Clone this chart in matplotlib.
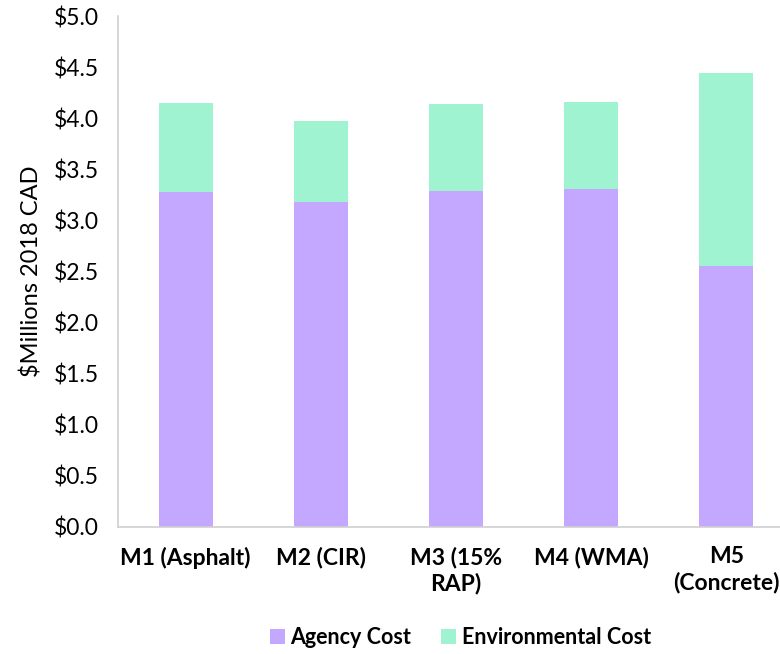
import matplotlib.pyplot as plt
from matplotlib.ticker import FuncFormatter

# cost breakdown per pavement design, millions of 2018 CAD
designs = ['M1 (Asphalt)', 'M2 (CIR)', 'M3 (15%\nRAP)', 'M4 (WMA)', 'M5\n(Concrete)']
agency_cost = [3.28, 3.18, 3.29, 3.31, 2.55]
environmental_cost = [0.87, 0.79, 0.85, 0.85, 1.89]

plt.rcParams['font.family'] = ['Lato', 'DejaVu Sans']

fig = plt.figure(figsize=(7.8, 6.54), dpi=100)
ax = fig.add_axes([118 / 780, 127 / 654, 676 / 780, 511 / 654])

x = range(len(designs))
ax.bar(x, agency_cost, width=0.4, color='#c4a8ff', label='Agency Cost')
ax.bar(x, environmental_cost, width=0.4, bottom=agency_cost,
       color='#9ff3d1', label='Environmental Cost')

ax.set_xlim(-0.5, 4.5)
ax.set_ylim(0, 5)
ax.set_yticks([i * 0.5 for i in range(11)])
ax.yaxis.set_major_formatter(FuncFormatter(lambda v, p: f'${v:.1f}'))
ax.set_xticks(list(x))
ax.set_xticklabels(designs, fontsize=16.5, fontweight='bold', linespacing=1.25)
ax.tick_params(axis='y', labelsize=16.5, length=0, pad=14)
ax.tick_params(axis='x', length=0, pad=14)
ax.set_ylabel('$Millions 2018 CAD', fontsize=17, labelpad=8)

for side in ['top', 'right']:
    ax.spines[side].set_visible(False)
for side in ['left', 'bottom']:
    ax.spines[side].set_color('#d0d0d0')
    ax.spines[side].set_linewidth(1.2)

fig.legend(loc='lower center', bbox_to_anchor=(0.59, -0.02), ncol=2,
           frameon=False, prop={'size': 15.5, 'weight': 'bold'},
           handlelength=0.7, handleheight=0.7, handletextpad=0.25,
           columnspacing=1.4)

fig.savefig('out.png', dpi=100)
